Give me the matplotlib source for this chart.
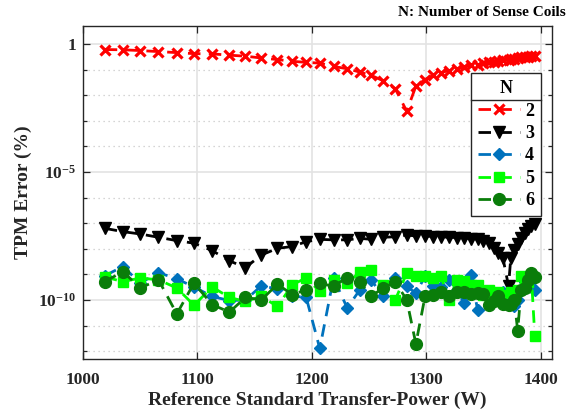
import numpy as np
import matplotlib
matplotlib.use("Agg")
import matplotlib.pyplot as plt
from matplotlib.lines import Line2D
from matplotlib.ticker import FixedLocator, FixedFormatter, NullFormatter

plt.rcParams["font.family"] = ["Liberation Serif", "DejaVu Serif"]
plt.rcParams["font.weight"] = "bold"
plt.rcParams["mathtext.fontset"] = "custom"
plt.rcParams["mathtext.rm"] = "Liberation Serif:bold"
plt.rcParams["mathtext.bf"] = "Liberation Serif:bold"
plt.rcParams["mathtext.it"] = "Liberation Serif:bold"

# --- data: reference power (W) and TPM error exponent (log10 of %) ---
power_w = [1019, 1035, 1050, 1066, 1082, 1097, 1113, 1128, 1142, 1156, 1170,
           1183, 1195, 1207, 1219, 1231, 1242, 1252, 1262, 1273, 1283, 1291,
           1299, 1306, 1313, 1320, 1327, 1333, 1339, 1345, 1350, 1355, 1359,
           1363, 1367, 1372, 1374, 1377, 1380, 1383, 1386, 1389, 1392, 1395]

err_n2 = [-0.22, -0.23, -0.26, -0.30, -0.34, -0.38, -0.39, -0.44, -0.48, -0.55,
          -0.61, -0.68, -0.72, -0.75, -0.88, -0.97, -1.10, -1.23, -1.43, -1.75,
          -2.63, -1.65, -1.39, -1.23, -1.12, -1.04, -0.97, -0.91, -0.84, -0.81,
          -0.75, -0.72, -0.69, -0.66, -0.64, -0.61, -0.59, -0.57, -0.55, -0.53,
          -0.52, -0.51, -0.49, -0.47]

err_n3 = [-7.20, -7.33, -7.42, -7.55, -7.68, -7.78, -8.07, -8.47, -8.73, -8.24,
          -7.98, -7.91, -7.72, -7.63, -7.65, -7.65, -7.59, -7.63, -7.55, -7.53,
          -7.46, -7.50, -7.50, -7.52, -7.53, -7.55, -7.56, -7.58, -7.60, -7.62,
          -7.68, -7.78, -7.95, -8.15, -8.34, -9.45, -8.34, -8.05, -7.80, -7.57,
          -7.38, -7.22, -7.10, -7.02]

err_n4 = [-9.05, -8.69, -9.34, -8.93, -9.17, -9.49, -9.86, -10.02, -10.00, -9.44,
          -9.57, -9.86, -9.88, -11.89, -9.14, -10.31, -9.60, -9.21, -9.86, -9.14,
          -9.47, -9.73, -9.08, -9.47, -9.50, -9.21, -9.60, -10.12, -9.02, -10.38,
          -9.70, -9.86, -9.80, -9.90, -9.70, -10.10, -9.85, -10.25, -10.00, -9.60,
          -9.30, -9.20, -9.50, -9.60]

err_n5 = [-9.10, -9.28, -9.14, -9.21, -9.53, -10.20, -9.49, -9.90, -10.05, -9.86,
          -10.25, -9.40, -9.14, -9.66, -9.21, -9.34, -8.91, -8.82, -9.40, -9.99,
          -8.95, -9.08, -9.05, -9.14, -9.08, -10.00, -9.21, -9.27, -9.40, -9.40,
          -9.79, -9.60, -9.86, -9.70, -9.92, -9.79, -9.70, -9.90, -9.60, -9.08,
          -9.50, -9.30, -9.10, -11.42]

err_n6 = [-9.28, -8.89, -9.53, -9.21, -10.54, -9.34, -10.18, -10.47, -9.90, -9.99,
          -9.38, -9.79, -9.60, -9.34, -9.47, -9.12, -9.30, -9.86, -9.53, -9.30,
          -9.99, -11.71, -9.86, -9.79, -9.69, -9.86, -9.69, -9.69, -9.77, -9.72,
          -9.75, -10.18, -10.05, -9.86, -10.16, -10.18, -10.16, -10.00, -11.19, -9.60,
          -9.53, -9.20, -8.95, -9.10]

coil_labels = ["2", "3", "4", "5", "6"]
y_tick_labels = [r"$\mathbf{10^{-10}}$", r"$\mathbf{10^{-5}}$", "1"]

# --- styles ---
styles = [
    dict(color="#ff0000", marker="x", ms=7, mew=2.3),
    dict(color="#000000", marker="v", ms=9, mew=1),
    dict(color="#0072bd", marker="D", ms=6.5, mew=1),
    dict(color="#00ff00", marker="s", ms=7, mew=1),
    dict(color="#0a7d0a", marker="o", ms=8.5, mew=1),
]

fig = plt.figure(figsize=(5.74, 4.2), dpi=100)
fig.subplots_adjust(left=83/574, right=552/574, bottom=1-359/420, top=1-26/420)
ax = fig.add_subplot(111)

x = np.array(power_w)
series = [err_n2, err_n3, err_n4, err_n5, err_n6]
for lab, vals, st in zip(coil_labels, series, styles):
    ax.plot(x, 10.0 ** np.array(vals), linestyle="--", linewidth=2,
            dashes=(4.5, 3), color=st["color"], marker=st["marker"],
            markersize=st["ms"], markeredgewidth=st["mew"],
            markerfacecolor=st["color"], markeredgecolor=st["color"], label=lab)

ax.set_yscale("log")
ax.set_xlim(1000, 1410)
ax.set_ylim(5e-13, 5)
ax.set_xticks([1000, 1100, 1200, 1300, 1400])
ax.yaxis.set_major_locator(FixedLocator([1e-10, 1e-5, 1]))
ax.yaxis.set_major_formatter(FixedFormatter(y_tick_labels))
ax.yaxis.set_minor_locator(FixedLocator([10.0 ** k for k in range(-12, 1)]))
ax.yaxis.set_minor_formatter(NullFormatter())

ax.grid(True, which="major", color="#e3e3e3", linewidth=1.2, linestyle="-")
ax.grid(True, which="minor", axis="y", color="#c8c8c8", linewidth=0.9,
        linestyle=(0, (1, 3)))
ax.set_axisbelow(True)

ax.tick_params(which="both", direction="in", top=True, right=True,
               colors="#262626", labelsize=12.5, length=5, width=0.9)
ax.tick_params(which="minor", length=3)
ax.tick_params(axis="x", pad=9)
ax.tick_params(axis="y", pad=5)
for s in ax.spines.values():
    s.set_color("#262626")
    s.set_linewidth(1.0)
for t in ax.get_xticklabels() + ax.get_yticklabels():
    t.set_fontweight("bold")
    t.set_color("#262626")

ax.set_xlabel("Reference Standard Transfer-Power (W)", fontsize=14,
              fontweight="bold", color="#262626", labelpad=3)
ax.set_ylabel("TPM Error (%)", fontsize=14, fontweight="bold",
              color="#262626", labelpad=4)

fig.text(0.985, 0.985, "N: Number of Sense Coils", ha="right", va="top",
         fontsize=11, fontweight="bold", color="#000000")

leg = ax.legend(title="N", loc="upper right", bbox_to_anchor=(0.977, 0.859),
                borderaxespad=0, fontsize=13, title_fontsize=13,
                handlelength=2.3, handletextpad=0.3, borderpad=0.4,
                labelspacing=0.3, fancybox=False, framealpha=1,
                edgecolor="#262626")
leg.get_frame().set_linewidth(1.0)
leg.get_title().set_fontweight("bold")
for t in leg.get_texts():
    t.set_fontweight("bold")

# separator line under the legend title
fig.canvas.draw()
r = fig.canvas.get_renderer()
fb = leg.get_frame().get_window_extent(r)
tb = leg.get_title().get_window_extent(r)
inv = fig.transFigure.inverted()
yl = tb.y0 - 3
p0 = inv.transform((fb.x0, yl))
p1 = inv.transform((fb.x1, yl))
fig.add_artist(Line2D([p0[0], p1[0]], [p0[1], p1[1]], color="#262626",
                      linewidth=1.0, transform=fig.transFigure, zorder=10))

fig.savefig("out.png", dpi=100)
